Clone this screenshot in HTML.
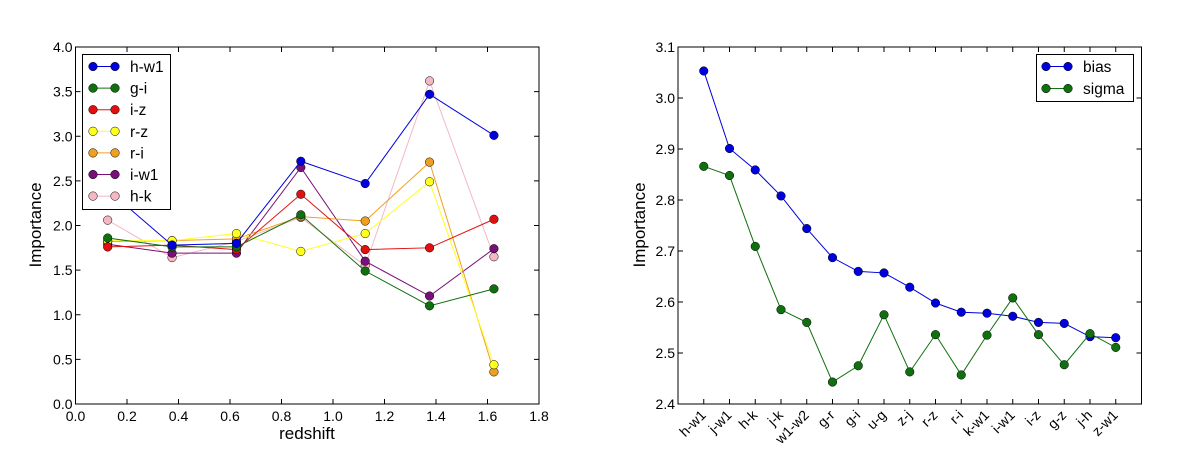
<!DOCTYPE html>
<html><head><meta charset="utf-8">
<style>
html,body{margin:0;padding:0;background:#fff;}
svg{display:block;font-family:"Liberation Sans","DejaVu Sans",sans-serif;}
</style></head>
<body>
<svg id="c" width="1200" height="449" xmlns="http://www.w3.org/2000/svg"></svg>
<script>
const zBins = [0.125,0.375,0.625,0.875,1.125,1.375,1.625];
const leftNames = ["h-w1","g-i","i-z","r-z","r-i","i-w1","h-k"];
const leftColors = ["#0000dd","#107010","#e01010","#ffff20","#f0a020","#781078","#f4b8c4"];
const hw1 = [2.40,1.78,1.80,2.72,2.47,3.47,3.01];
const gi = [1.86,1.76,1.76,2.12,1.49,1.10,1.29];
const iz = [1.76,1.78,1.73,2.35,1.73,1.75,2.07];
const rz = [1.83,1.83,1.91,1.71,1.91,2.49,0.44];
const ri = [1.82,1.83,1.85,2.10,2.05,2.71,0.36];
const iw1 = [1.79,1.69,1.69,2.65,1.60,1.21,1.74];
const hk = [2.06,1.64,1.82,2.09,1.55,3.62,1.65];
const leftXTicks = [0.0,0.2,0.4,0.6,0.8,1.0,1.2,1.4,1.6,1.8];
const leftYTicks = [0.0,0.5,1.0,1.5,2.0,2.5,3.0,3.5,4.0];

const features = ["h-w1","j-w1","h-k","j-k","w1-w2","g-r","g-i","u-g","z-j","r-z","r-i","k-w1","i-w1","i-z","g-z","j-h","z-w1"];
const bias = [3.053,2.901,2.859,2.808,2.744,2.687,2.660,2.657,2.629,2.598,2.580,2.578,2.572,2.560,2.558,2.532,2.530];
const sigma = [2.866,2.848,2.709,2.585,2.560,2.443,2.475,2.575,2.463,2.536,2.457,2.535,2.608,2.536,2.477,2.538,2.511];
const rightYTicks = [2.4,2.5,2.6,2.7,2.8,2.9,3.0,3.1];

const NS="http://www.w3.org/2000/svg";
const svg=document.getElementById('c');
function mk(tag,attrs,parent,text){const e=document.createElementNS(NS,tag);for(const k in attrs)e.setAttribute(k,attrs[k]);if(text!==undefined)e.textContent=text;(parent||svg).appendChild(e);return e;}

// LEFT
const L={x0:75.5,x1:539,y0:404,y1:47,xmin:0,xmax:1.8,ymin:0,ymax:4};
const lx=v=>L.x0+(v-L.xmin)/(L.xmax-L.xmin)*(L.x1-L.x0);
const ly=v=>L.y0-(v-L.ymin)/(L.ymax-L.ymin)*(L.y0-L.y1);
const gL=mk('g',{});


const leftSeries=[hw1,gi,iz,rz,ri,iw1,hk];
for(let s=leftSeries.length-1;s>=0;s--){
  const g=mk('g',{},gL);
  
  
  const pts=leftSeries[s].map((v,i)=>lx(zBins[i])+','+ly(v)).join(' ');
  mk('polyline',{points:pts,fill:'none',stroke:leftColors[s],'stroke-width':1},g);
  leftSeries[s].forEach((v,i)=>{
    const c=mk('circle',{cx:lx(zBins[i]),cy:ly(v),r:4.3,fill:leftColors[s],stroke:'#000','stroke-width':0.5},g);
    
    
  });
}
mk('rect',{x:L.x0,y:L.y1,width:L.x1-L.x0,height:L.y0-L.y1,fill:'none',stroke:'#000','stroke-width':1},gL);
leftXTicks.forEach(t=>{const x=lx(t);
  mk('line',{x1:x,x2:x,y1:L.y0,y2:L.y0-5,stroke:'#000'},gL);
  mk('line',{x1:x,x2:x,y1:L.y1,y2:L.y1+5,stroke:'#000'},gL);
  const tx=mk('text',{x:x,y:L.y0+17,'font-size':14,'text-anchor':'middle'},gL,t.toFixed(1));
  
  
});
leftYTicks.forEach(t=>{const y=ly(t);
  mk('line',{x1:L.x0,x2:L.x0+5,y1:y,y2:y,stroke:'#000'},gL);
  mk('line',{x1:L.x1,x2:L.x1-5,y1:y,y2:y,stroke:'#000'},gL);
  const tx=mk('text',{x:L.x0-3,y:y+5,'font-size':14,'text-anchor':'end'},gL,t.toFixed(1));
  
  
});
let t1=mk('text',{x:307,y:439,'font-size':17,'text-anchor':'middle'},gL,'redshift');


let t2=mk('text',{x:0,y:0,'font-size':17,'text-anchor':'middle',transform:'translate(41,225) rotate(-90)'},gL,'Importance');


// left legend
const lg=mk('g',{},gL);


mk('rect',{x:82.5,y:54.5,width:88,height:155,fill:'#fff',stroke:'#000','stroke-width':1},lg);
leftNames.forEach((n,i)=>{const y=66.5+i*21.6;
  const e=mk('g',{},lg);
  
  
  mk('line',{x1:93,x2:115,y1:y,y2:y,stroke:leftColors[i]},e);
  mk('circle',{cx:93,cy:y,r:4.3,fill:leftColors[i],stroke:'#000','stroke-width':0.5},e);
  mk('circle',{cx:115,cy:y,r:4.3,fill:leftColors[i],stroke:'#000','stroke-width':0.5},e);
  mk('text',{x:130,y:y+5.5,'font-size':15.5},e,n);
});

// RIGHT
const R={x0:678,x1:1141.5,y0:404,y1:47,xmin:-1,xmax:17,ymin:2.4,ymax:3.1};
const rx=i=>R.x0+(i-R.xmin)/(R.xmax-R.xmin)*(R.x1-R.x0);
const ry=v=>R.y0-(v-R.ymin)/(R.ymax-R.ymin)*(R.y0-R.y1);
const gR=mk('g',{});


const rNames=["bias","sigma"], rCols=["#0000dd","#107010"], rSeries=[bias,sigma];
rSeries.forEach((arr,s)=>{
  const g=mk('g',{},gR);
  
  
  mk('polyline',{points:arr.map((v,i)=>rx(i)+','+ry(v)).join(' '),fill:'none',stroke:rCols[s],'stroke-width':1},g);
  arr.forEach((v,i)=>{
    const c=mk('circle',{cx:rx(i),cy:ry(v),r:4.3,fill:rCols[s],stroke:'#000','stroke-width':0.5},g);
    
    
  });
});
mk('rect',{x:R.x0,y:R.y1,width:R.x1-R.x0,height:R.y0-R.y1,fill:'none',stroke:'#000','stroke-width':1},gR);
features.forEach((f,i)=>{const x=rx(i);
  mk('line',{x1:x,x2:x,y1:R.y0,y2:R.y0-5,stroke:'#000'},gR);
  mk('line',{x1:x,x2:x,y1:R.y1,y2:R.y1+5,stroke:'#000'},gR);
  const tx=mk('text',{x:0,y:0,'font-size':14,'text-anchor':'end',transform:'translate('+(x+3)+','+(R.y0+12)+') rotate(-45)'},gR,f);
  
  
});
rightYTicks.forEach(t=>{const y=ry(t);
  mk('line',{x1:R.x0,x2:R.x0+5,y1:y,y2:y,stroke:'#000'},gR);
  mk('line',{x1:R.x1,x2:R.x1-5,y1:y,y2:y,stroke:'#000'},gR);
  const tx=mk('text',{x:R.x0-3,y:y+5,'font-size':14,'text-anchor':'end'},gR,t.toFixed(1));
  
  
});
let t3=mk('text',{x:0,y:0,'font-size':17,'text-anchor':'middle',transform:'translate(645,225) rotate(-90)'},gR,'Importance');


const rg=mk('g',{},gR);


mk('rect',{x:1036.5,y:54.5,width:97,height:47,fill:'#fff',stroke:'#000','stroke-width':1},rg);
rNames.forEach((n,i)=>{const y=66.5+i*22;
  const e=mk('g',{},rg);
  
  
  mk('line',{x1:1046,x2:1068,y1:y,y2:y,stroke:rCols[i]},e);
  mk('circle',{cx:1046,cy:y,r:4.3,fill:rCols[i],stroke:'#000','stroke-width':0.5},e);
  mk('circle',{cx:1068,cy:y,r:4.3,fill:rCols[i],stroke:'#000','stroke-width':0.5},e);
  mk('text',{x:1083,y:y+5.5,'font-size':15.5},e,n);
});
</script>
</body></html>
